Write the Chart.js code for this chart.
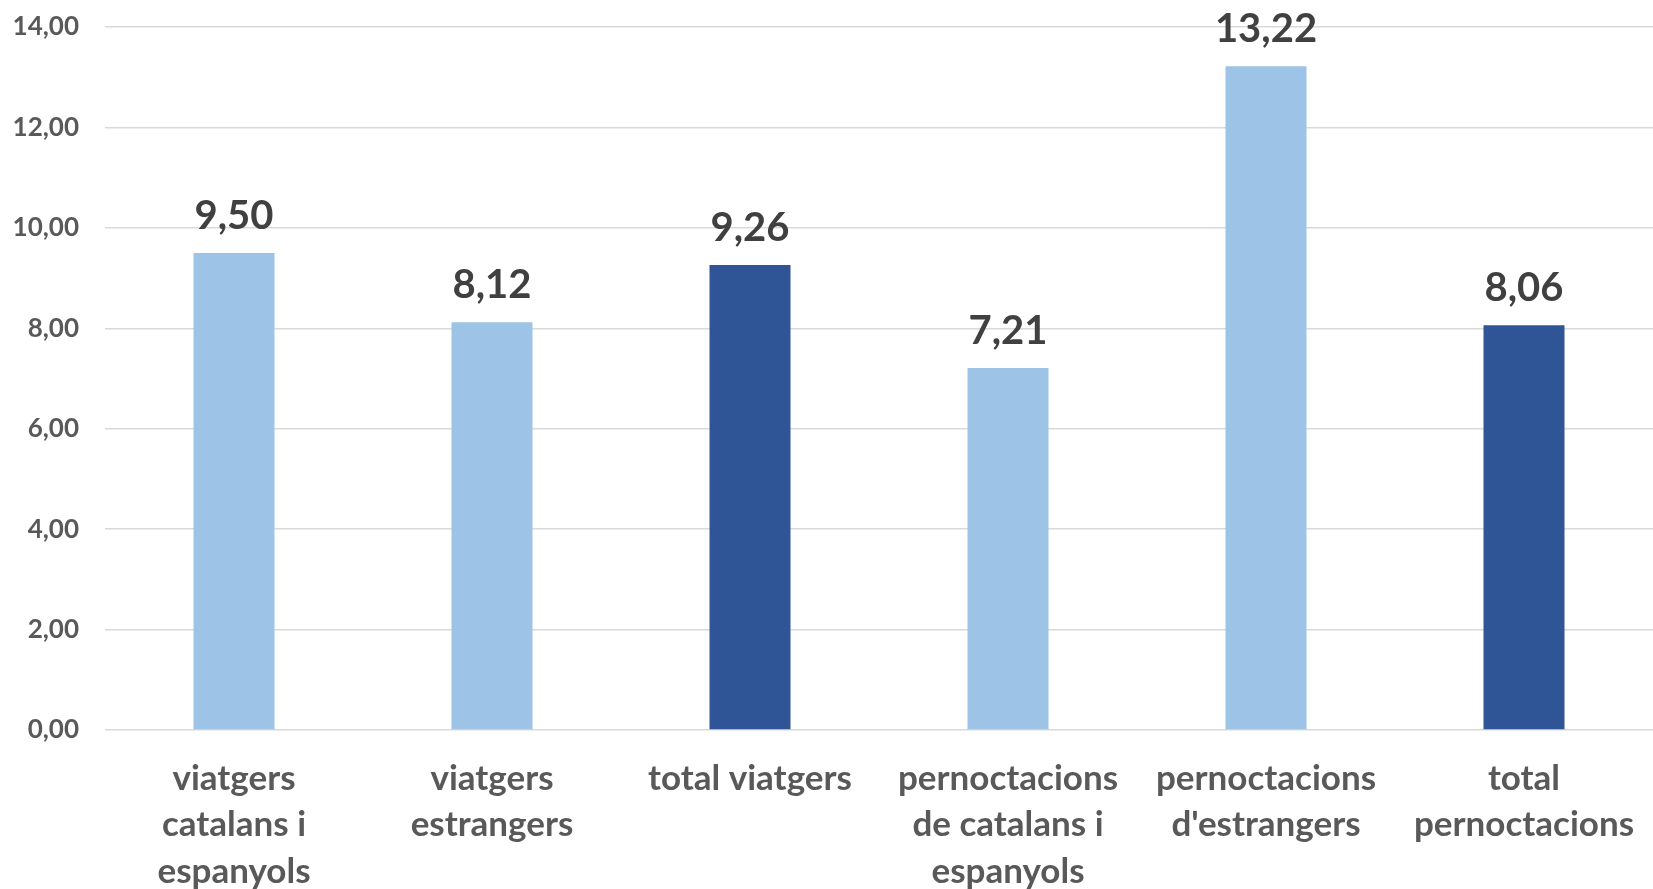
<!DOCTYPE html>
<html>
<head>
<meta charset="utf-8">
<script src="https://cdn.jsdelivr.net/npm/chart.js@4/dist/chart.umd.min.js"></script>
<style>
  html, body { margin: 0; padding: 0; background: #fff; }
  #wrap { width: 1653px; height: 889px; }
</style>
</head>
<body>
<div id="wrap"><canvas id="barChart"></canvas></div>
<script>
// categories (multi-line, as in the original)
var categories = [
  ['viatgers', 'catalans i', 'espanyols'],
  ['viatgers', 'estrangers'],
  ['total viatgers'],
  ['pernoctacions', 'de catalans i', 'espanyols'],
  ['pernoctacions', "d'estrangers"],
  ['total', 'pernoctacions']
]
var values = [9.50, 8.12, 9.26, 7.21, 13.22, 8.06]
var barColors = ['#9DC3E6', '#9DC3E6', '#2F5597', '#9DC3E6', '#9DC3E6', '#2F5597']
var yTicks = [0, 2, 4, 6, 8, 10, 12, 14]

function fmt(v) {
  return v.toFixed(2).replace('.', ',')
}

// value labels above the bars
var valueLabels = {
  id: 'valueLabels',
  afterDatasetsDraw: function (chart) {
    var ctx = chart.ctx
    var meta = chart.getDatasetMeta(0)
    ctx.save()
    ctx.font = 'bold 40px Lato'
    ctx.fillStyle = '#404040'
    ctx.textAlign = 'center'
    ctx.textBaseline = 'alphabetic'
    meta.data.forEach(function (bar, i) {
      ctx.fillText(fmt(values[i]), bar.x, bar.y - 24)
    })
    ctx.restore()
  }
}

var barChartCanvas = document.getElementById('barChart').getContext('2d')
window.myBar = new Chart(barChartCanvas, {
  type: 'bar',
  data: {
    labels: categories,
    datasets: [{
      data: values,
      backgroundColor: barColors,
      borderWidth: 0,
      barPercentage: 0.314,
      categoryPercentage: 1
    }]
  },
  options: {
    responsive: true,
    maintainAspectRatio: false,
    animation: false,
    layout: { padding: { top: 27, left: 0, right: 0, bottom: 0 } },
    plugins: {
      legend: { display: false },
      tooltip: { enabled: false }
    },
    scales: {
      x: {
        grid: { display: false },
        border: { display: false },
        ticks: {
          color: '#595959',
          font: { family: 'Lato', weight: 'bold', size: 35, lineHeight: 1.33 },
          padding: 17,
          maxRotation: 0,
          autoSkip: false
        },
        afterFit: function (scale) { scale.height = 159 }
      },
      y: {
        min: 0,
        max: 14,
        afterBuildTicks: function (scale) {
          scale.ticks = yTicks.map(function (v) { return { value: v } })
        },
        grid: { color: '#D9D9D9', lineWidth: 1.5, drawTicks: false },
        border: { display: false },
        ticks: {
          color: '#595959',
          font: { family: 'Lato', weight: 'bold', size: 26 },
          padding: 26,
          callback: function (v) { return fmt(v) }
        },
        afterFit: function (scale) {
          scale.width = 105
          scale.paddingTop = 0
          scale.paddingBottom = 0
        }
      }
    }
  },
  plugins: [valueLabels]
})
</script>
</body>
</html>
